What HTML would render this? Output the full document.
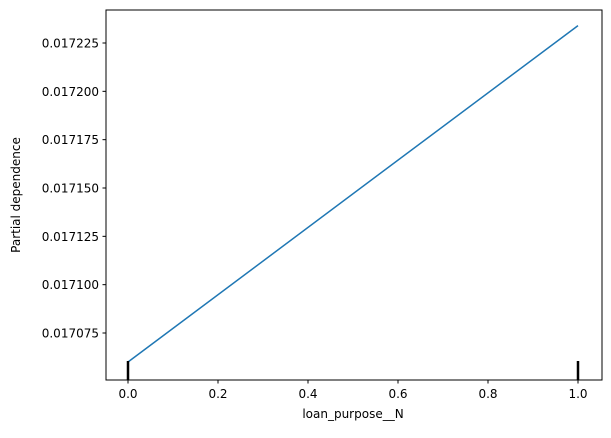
<!DOCTYPE html>
<html><head><meta charset="utf-8"><style>
body{margin:0;background:#fff;font-family:"Liberation Sans","DejaVu Sans",sans-serif;}
svg text{font-family:"DejaVu Sans","Liberation Sans",sans-serif;font-size:12px;fill:#000;}
</style></head><body>
<svg id="chart" width="611" height="433" xmlns="http://www.w3.org/2000/svg">
<rect width="611" height="433" fill="#fff"/>
<g id="marks"></g>
<rect x="106" y="10" width="496" height="370" fill="none" stroke="#000" stroke-width="1"/>
<g id="axes"></g>
<text x="353" y="418" text-anchor="middle">loan_purpose__N</text>
<text transform="translate(20,195) rotate(-90)" text-anchor="middle">Partial dependence</text>
</svg>
<script>
const xValues=[0,1];
const yValues=[0.01706,0.017234];
const rugValues=[0,1];
const xTicks=[0,0.2,0.4,0.6,0.8,1.0];
const xTickLabels=["0.0","0.2","0.4","0.6","0.8","1.0"];
const yTicks=[0.017075,0.0171,0.017125,0.01715,0.017175,0.0172,0.017225];
const yTickLabels=["0.017075","0.017100","0.017125","0.017150","0.017175","0.017200","0.017225"];
const X=v=>128+v*450;
const Y=v=>333-(v-0.017075)/0.000025*48.333;
const NS="http://www.w3.org/2000/svg";
const marks=document.getElementById('marks'),axes=document.getElementById('axes');
function mk(t,a,p){const e=document.createElementNS(NS,t);for(const k in a)e.setAttribute(k,a[k]);p.appendChild(e);return e;}
const pts=xValues.map((x,i)=>X(x)+','+Y(yValues[i])).join(' ');
const line=mk('polyline',{points:pts,fill:'none',stroke:'#1f77b4','stroke-width':1.5},marks);


rugValues.forEach(v=>{
 const r=mk('line',{x1:X(v),x2:X(v),y1:361,y2:380,stroke:'#000','stroke-width':2.5},marks);
 
 
});
xTicks.forEach((v,i)=>{
 const t=mk('line',{x1:X(v),x2:X(v),y1:380,y2:383.5,stroke:'#000'},axes);
 
 
 const l=mk('text',{x:X(v),y:398,'text-anchor':'middle'},axes);l.textContent=xTickLabels[i];
 
 
});
yTicks.forEach((v,i)=>{
 const t=mk('line',{x1:102.5,x2:106,y1:Y(v),y2:Y(v),stroke:'#000'},axes);
 
 
 const l=mk('text',{x:99,y:Y(v)+4.5,'text-anchor':'end'},axes);l.textContent=yTickLabels[i];
 
 
});
</script>
</body></html>
